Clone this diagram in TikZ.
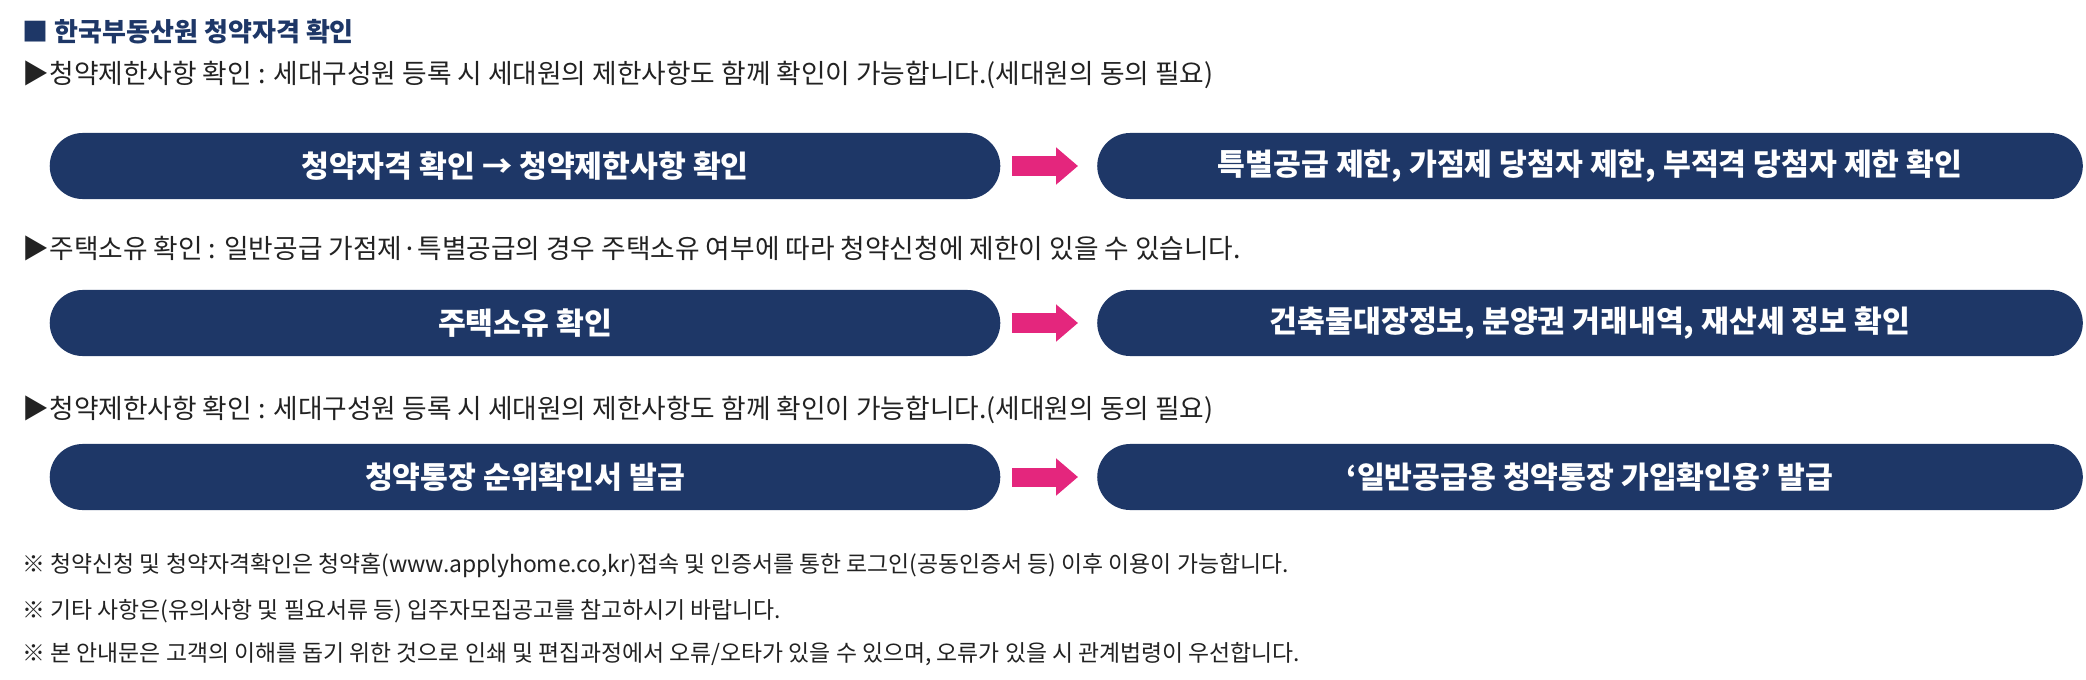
\documentclass[tikz,border=0pt]{standalone}
\usepackage{fontspec}
\setmainfont{Noto Sans CJK KR}
\usetikzlibrary{arrows.meta}
\definecolor{navy}{HTML}{1E3767}
\definecolor{pink}{HTML}{E4267D}
\definecolor{txt}{HTML}{222222}
\tikzset{
 pill/.style={fill=navy,rounded corners=0.33cm,minimum height=0.66cm,text=white,font=\fontsize{8.6pt}{10pt}\selectfont\bfseries,inner sep=0pt},
 line/.style={anchor=west,inner sep=0pt,text=txt,font=\fontsize{7.6pt}{9pt}\selectfont},
 note/.style={anchor=west,inner sep=0pt,text=txt,font=\fontsize{6.5pt}{9pt}\selectfont},
 parrow/.style={-{Triangle[length=0.22cm,width=0.36cm]},line width=0.19cm,pink}
}
\begin{document}
\begin{tikzpicture}[x=0.01cm,y=-0.01cm]
\useasboundingbox (0,0) rectangle (2086,679);
\node[anchor=west,inner sep=0pt,text=navy,font=\fontsize{7.4pt}{10pt}\selectfont\bfseries] (title) at (22,32) {■ 한국부동산원 청약자격 확인};
\node[line] (l1) at (22,75) {▶청약제한사항 확인 : 세대구성원 등록 시 세대원의 제한사항도 함께 확인이 가능합니다.(세대원의 동의 필요)};
\node[pill,minimum width=9.5cm] (a1) at (525,166) {청약자격 확인 → 청약제한사항 확인};
\node[pill,minimum width=9.85cm] (b1) at (1590,166) {특별공급 제한, 가점제 당첨자 제한, 부적격 당첨자 제한 확인};
\draw[parrow] (1012,166) -- (1078,166);
\node[line] (l2) at (22,248) {▶주택소유 확인 : 일반공급 가점제·특별공급의 경우 주택소유 여부에 따라 청약신청에 제한이 있을 수 있습니다.};
\node[pill,minimum width=9.5cm] (a2) at (525,323) {주택소유 확인};
\node[pill,minimum width=9.85cm] (b2) at (1590,323) {건축물대장정보, 분양권 거래내역, 재산세 정보 확인};
\draw[parrow] (1012,323) -- (1078,323);
\node[line] (l3) at (22,410) {▶청약제한사항 확인 : 세대구성원 등록 시 세대원의 제한사항도 함께 확인이 가능합니다.(세대원의 동의 필요)};
\node[pill,minimum width=9.5cm] (a3) at (525,477) {청약통장 순위확인서 발급};
\node[pill,minimum width=9.85cm] (b3) at (1590,477) {‘일반공급용 청약통장 가입확인용’ 발급};
\draw[parrow] (1012,477) -- (1078,477);
\node[note] (n1) at (22,566) {※ 청약신청 및 청약자격확인은 청약홈(www.applyhome.co,kr)접속 및 인증서를 통한 로그인(공동인증서 등) 이후 이용이 가능합니다.};
\node[note] (n2) at (22,611) {※ 기타 사항은(유의사항 및 필요서류 등) 입주자모집공고를 참고하시기 바랍니다.};
\node[note] (n3) at (22,654) {※ 본 안내문은 고객의 이해를 돕기 위한 것으로 인쇄 및 편집과정에서 오류/오타가 있을 수 있으며, 오류가 있을 시 관계법령이 우선합니다.};
\end{tikzpicture}
\end{document}
